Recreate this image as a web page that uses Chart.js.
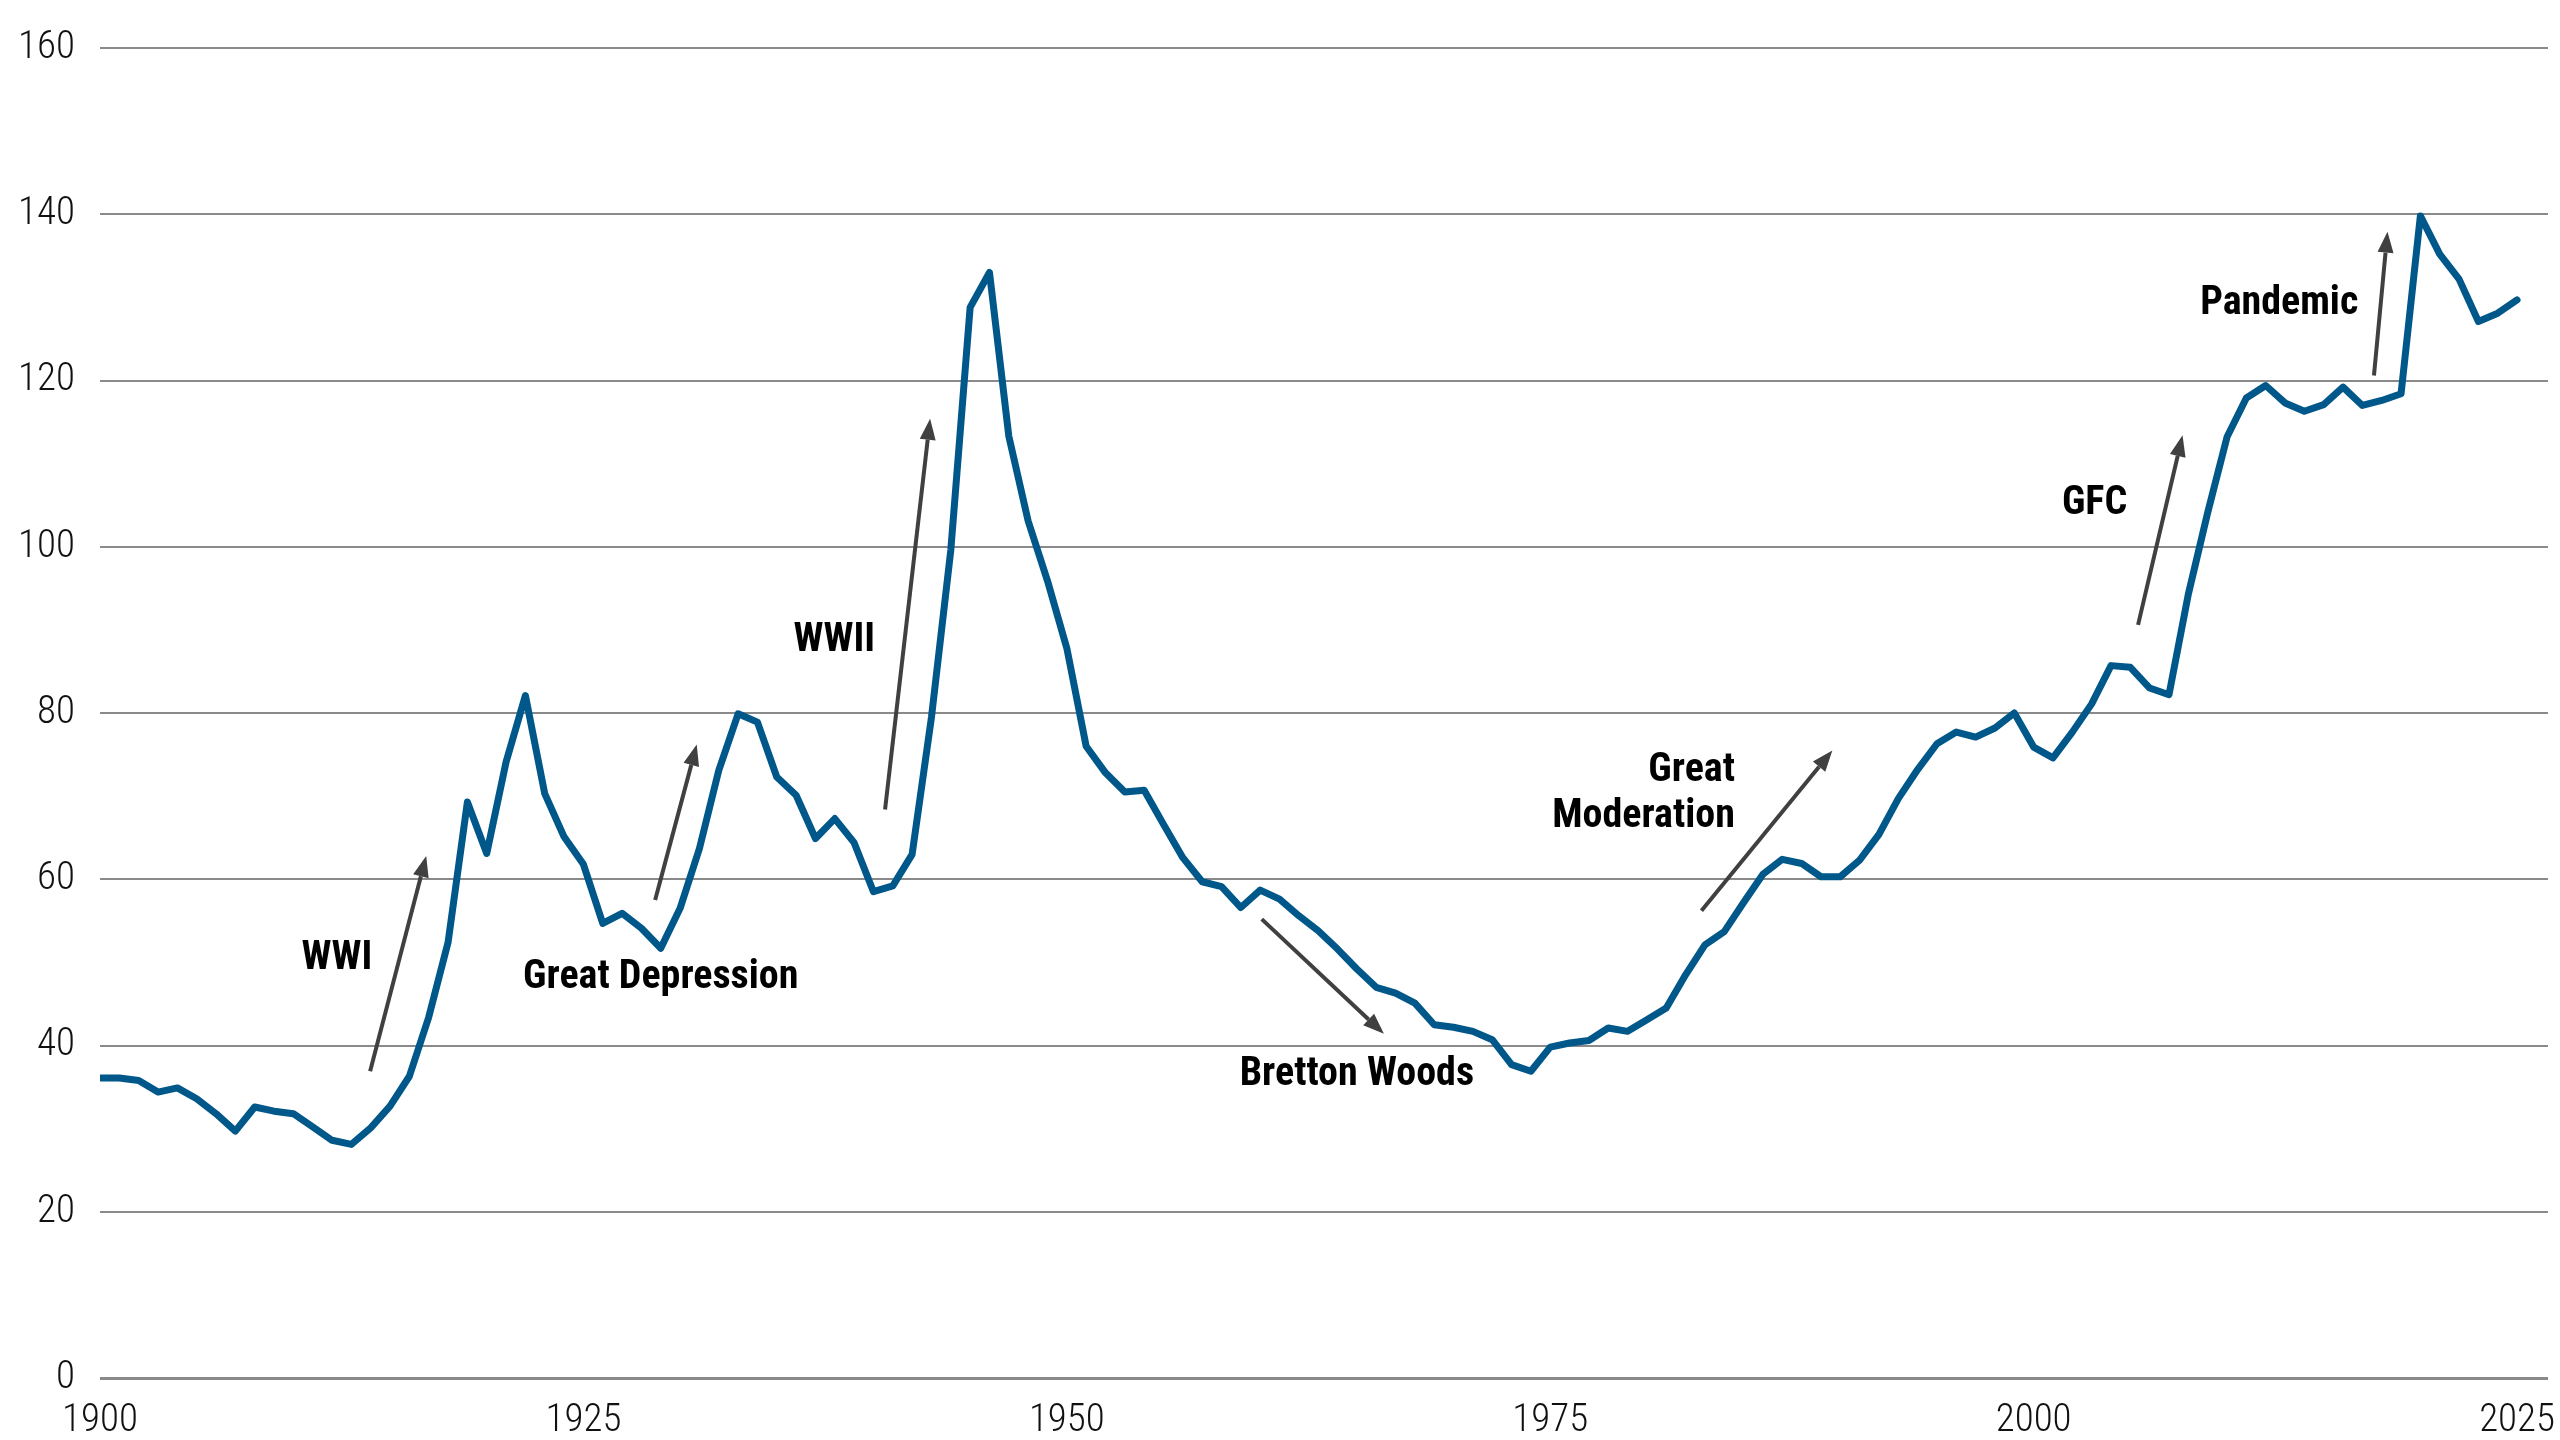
<html lang="en">
<head>
  <meta charset="UTF-8">
  <title>Debt to GDP</title>
  <script src="https://cdn.jsdelivr.net/npm/chart.js@4.4.1/dist/chart.umd.min.js"></script>
  <style>
    html, body { margin: 0; padding: 0; background: #fff; }
    canvas { display: block; }
  </style>
</head>
<body>

  <canvas id="chart" width="2560" height="1440"></canvas>

  <script>
    // values, one per year from 1900
    var firstYear = 1900;
    var debtRatio = [
      36.1, 36.1, 35.8, 34.4, 34.9, 33.6, 31.8, 29.7, 32.6, 32.1,
      31.8, 30.2, 28.6, 28.1, 30.1, 32.7, 36.3, 43.4, 52.4, 69.3,
      63.1, 74.1, 82.1, 70.3, 65.1, 61.8, 54.7, 55.9, 54.1, 51.7,
      56.5, 63.7, 73.1, 79.9, 78.9, 72.3, 70.1, 64.9, 67.3, 64.4,
      58.5, 59.2, 63.0, 79.5, 99.6, 128.8, 133.0, 113.3, 103.1, 95.9,
      87.8, 76.0, 72.8, 70.5, 70.7, 66.6, 62.6, 59.7, 59.1, 56.6,
      58.7, 57.6, 55.6, 53.8, 51.6, 49.2, 47.0, 46.3, 45.1, 42.5,
      42.2, 41.7, 40.7, 37.7, 36.9, 39.8, 40.3, 40.6, 42.1, 41.7,
      43.1, 44.5, 48.5, 52.1, 53.7, 57.2, 60.6, 62.4, 61.9, 60.3,
      60.3, 62.3, 65.4, 69.7, 73.2, 76.3, 77.7, 77.1, 78.2, 80.0,
      75.9, 74.6, 77.7, 81.1, 85.7, 85.5, 83.0, 82.2, 94.3, 104.1,
      113.2, 117.9, 119.4, 117.3, 116.3, 117.1, 119.2, 117.0, 117.6, 118.4,
      139.8, 135.2, 132.2, 127.1, 128.1, 129.7
    ];
    var years = debtRatio.map(function(v, i){ return firstYear + i; });

    var xTickValues = [1900, 1925, 1950, 1975, 2000, 2025];
    var yTickValues = [0, 20, 40, 60, 80, 100, 120, 140, 160];

    // arrows: [tailYear, tailValue, tipYear, tipValue]
    var arrows = [
      [1913.97, 36.9, 1916.87, 62.8],
      [1928.71, 57.5, 1930.86, 76.2],
      [1940.6, 68.4, 1942.93, 115.4],
      [1960.08, 55.2, 1966.4, 41.4],
      [1982.82, 56.2, 1989.59, 75.5],
      [2005.4, 90.6, 2007.7, 113.4],
      [2017.6, 120.6, 2018.3, 137.9]
    ];

    // labels: [text, year, value, align]
    var labels = [
      ['WWI', 1912.25, 50.4, 'center'],
      ['Great Depression', 1929.0, 48.1, 'center'],
      ['WWII', 1937.97, 88.7, 'center'],
      ['Bretton Woods', 1965.0, 36.4, 'center'],
      ['Great', 1984.55, 73.0, 'right'],
      ['Moderation', 1984.55, 67.5, 'right'],
      ['GFC', 2003.15, 105.1, 'center'],
      ['Pandemic', 2012.7, 129.2, 'center']
    ];

    (function(){
      'use strict';

      var narrow = "'Roboto Condensed', 'Liberation Sans Narrow', 'Arial Narrow', 'DejaVu Sans Condensed', sans-serif";

      function drawArrow(ctx, x0, y0, x1, y1){
        var ang = Math.atan2(y1 - y0, x1 - x0),
          head = 21, half = 8,
          bx = x1 - head * Math.cos(ang),
          by = y1 - head * Math.sin(ang);

        ctx.beginPath();
        ctx.moveTo(x0, y0);
        ctx.lineTo(bx, by);
        ctx.stroke();

        ctx.beginPath();
        ctx.moveTo(x1, y1);
        ctx.lineTo(bx + half * Math.sin(ang), by - half * Math.cos(ang));
        ctx.lineTo(bx - half * Math.sin(ang), by + half * Math.cos(ang));
        ctx.closePath();
        ctx.fill();
      }

      var annotations = {
        id: 'annotations',
        afterDatasetsDraw: function(chart){
          var ctx = chart.ctx, sx = chart.scales.x, sy = chart.scales.y;

          ctx.save();
          ctx.strokeStyle = '#404040';
          ctx.fillStyle = '#404040';
          ctx.lineWidth = 4;
          arrows.forEach(function(a){
            drawArrow(ctx, sx.getPixelForValue(a[0]), sy.getPixelForValue(a[1]),
              sx.getPixelForValue(a[2]), sy.getPixelForValue(a[3]));
          });

          ctx.fillStyle = '#000';
          ctx.font = "bold 40px " + narrow;
          ctx.textBaseline = 'middle';
          labels.forEach(function(l){
            ctx.textAlign = l[3];
            ctx.fillText(l[0], sx.getPixelForValue(l[1]), sy.getPixelForValue(l[2]));
          });
          ctx.restore();
        }
      };

      new Chart(document.getElementById('chart'), {
        type: 'line',
        data: {
          datasets: [{
            data: years.map(function(yr, i){ return { x: yr, y: debtRatio[i] }; }),
            borderColor: '#00578a',
            borderWidth: 7,
            borderJoinStyle: 'round',
            borderCapStyle: 'round',
            pointRadius: 0,
            tension: 0,
            fill: false
          }]
        },
        options: {
          responsive: false,
          animation: false,
          layout: { padding: { top: 48, right: 12, left: 0, bottom: 0 } },
          plugins: {
            legend: { display: false },
            tooltip: { enabled: false }
          },
          scales: {
            x: {
              type: 'linear',
              min: 1900,
              max: 2026.6,
              afterBuildTicks: function(scale){
                scale.ticks = xTickValues.map(function(v){ return { value: v }; });
              },
              afterFit: function(scale){
                scale.height = 62;
                scale.paddingLeft = 0;
                scale.paddingRight = 0;
              },
              grid: { display: false, drawTicks: false },
              border: { display: false },
              ticks: {
                padding: 20,
                color: '#111',
                font: { family: narrow, size: 39, weight: '300' },
                maxRotation: 0,
                callback: function(v){ return String(v); }
              }
            },
            y: {
              min: 0,
              max: 160,
              afterBuildTicks: function(scale){
                scale.ticks = yTickValues.map(function(v){ return { value: v }; });
              },
              afterFit: function(scale){
                scale.width = 100;
                scale.paddingTop = 0;
                scale.paddingBottom = 0;
              },
              grid: {
                color: '#8a8a8a',
                lineWidth: function(c){ return c.tick && c.tick.value === 0 ? 3 : 2; },
                drawTicks: false
              },
              border: { display: false },
              ticks: {
                padding: 25,
                color: '#111',
                font: { family: narrow, size: 39, weight: '300' }
              }
            }
          }
        },
        plugins: [annotations]
      });
    }());
  </script>

</body>
</html>
